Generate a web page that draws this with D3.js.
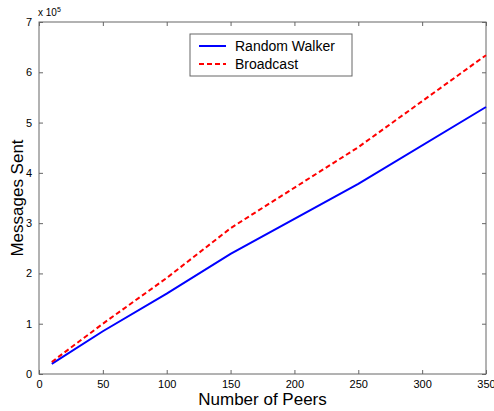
<!DOCTYPE html>
<html>
<head>
<meta charset="utf-8">
<script src="https://cdn.jsdelivr.net/npm/d3@7"></script>
<style>
  body { margin: 0; background: #fff; }
  svg { font-family: "Liberation Sans", Arial, sans-serif; }
</style>
</head>
<body>
<svg id="chart"></svg>
<script>
// data (messages sent, in units of 10^5)
const peers = [10, 50, 100, 150, 250, 350];
const randomWalker = [0.2, 0.85, 1.6, 2.39, 3.78, 5.31];
const broadcast = [0.24, 1.0, 1.91, 2.9, 4.51, 6.34];
const xTicks = [0, 50, 100, 150, 200, 250, 300, 350];
const yTicks = [0, 1, 2, 3, 4, 5, 6, 7];

const width = 494, height = 411;
const margin = { left: 39, right: 8, top: 22, bottom: 37 };

const svg = d3.select("#chart")
    .attr("width", width)
    .attr("height", height);

const x = d3.scaleLinear().domain([0, 350]).range([margin.left, width - margin.right]);
const y = d3.scaleLinear().domain([0, 7]).range([height - margin.bottom, margin.top]);

const axisColor = "#666";

// frame
svg.append("rect")
    .attr("x", x(0)).attr("y", y(7))
    .attr("width", x(350) - x(0)).attr("height", y(0) - y(7))
    .attr("fill", "none").attr("stroke", axisColor).attr("stroke-width", 1);

function styleAxis(g, showLabels) {
    g.select(".domain").remove();
    g.selectAll(".tick line").attr("stroke", axisColor);
    g.selectAll(".tick text").attr("fill", "#000").attr("font-size", 11)
        .attr("font-family", "Liberation Sans, Arial, sans-serif");
    if (!showLabels) g.selectAll(".tick text").remove();
}

// bottom / top
svg.append("g")
    .attr("transform", `translate(0, ${y(0)})`)
    .call(d3.axisBottom(x).tickValues(xTicks).tickSize(-4).tickPadding(6))
    .call(g => styleAxis(g, true));
svg.append("g")
    .attr("transform", `translate(0, ${y(7)})`)
    .call(d3.axisTop(x).tickValues(xTicks).tickSize(-4))
    .call(g => styleAxis(g, false));

// left / right
svg.append("g")
    .attr("transform", `translate(${x(0)}, 0)`)
    .call(d3.axisLeft(y).tickValues(yTicks).tickFormat(d3.format("d")).tickSize(-4).tickPadding(7))
    .call(g => styleAxis(g, true));
svg.append("g")
    .attr("transform", `translate(${x(350)}, 0)`)
    .call(d3.axisRight(y).tickValues(yTicks).tickSize(-4))
    .call(g => styleAxis(g, false));

// exponent label
const expo = svg.append("text")
    .attr("x", 38).attr("y", 16)
    .attr("font-size", 10);
expo.append("tspan").text("x 10");
expo.append("tspan").attr("font-size", 7).attr("dy", -4).text("5");

// lines
const line = d3.line()
    .x((d, i) => x(peers[i]))
    .y(d => y(d));

svg.append("path")
    .datum(randomWalker)
    .attr("d", line)
    .attr("fill", "none")
    .attr("stroke", "#0000ff")
    .attr("stroke-width", 2);

svg.append("path")
    .datum(broadcast)
    .attr("d", line)
    .attr("fill", "none")
    .attr("stroke", "#ff0000")
    .attr("stroke-width", 2)
    .attr("stroke-dasharray", "5,3");

// axis titles
svg.append("text")
    .attr("x", (x(0) + x(350)) / 2).attr("y", 405)
    .attr("text-anchor", "middle")
    .attr("font-size", 17)
    .text("Number of Peers");

svg.append("text")
    .attr("transform", `translate(23, ${(y(0) + y(7)) / 2}) rotate(-90)`)
    .attr("text-anchor", "middle")
    .attr("font-size", 17)
    .text("Messages Sent");

// legend
const legend = svg.append("g").attr("transform", "translate(190, 34)");
legend.append("rect")
    .attr("width", 162).attr("height", 42)
    .attr("fill", "#fff").attr("stroke", axisColor);

const legendItems = [
    { name: "Random Walker", color: "#0000ff", dash: null },
    { name: "Broadcast", color: "#ff0000", dash: "5,3" }
];

legend.selectAll(".item")
    .data(legendItems)
    .enter()
    .append("g")
    .attr("class", "item")
    .attr("transform", (d, i) => `translate(0, ${12 + i * 18})`)
    .each(function(d) {
        const g = d3.select(this);
        g.append("line")
            .attr("x1", 9).attr("x2", 36)
            .attr("stroke", d.color).attr("stroke-width", 2)
            .attr("stroke-dasharray", d.dash);
        g.append("text")
            .attr("x", 45).attr("dy", "0.35em")
            .attr("font-size", 14)
            .text(d.name);
    });
</script>
</body>
</html>
